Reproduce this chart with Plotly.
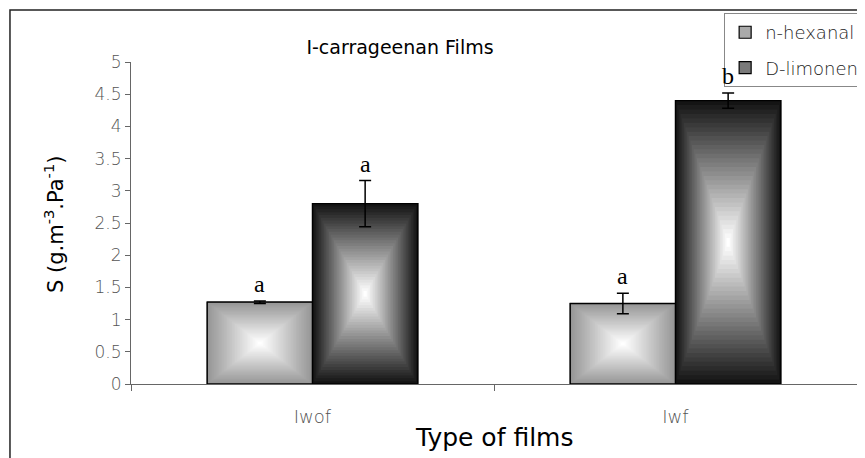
import plotly.graph_objects as go

# ---- data ----
categories = ["Iwof", "Iwf"]
series_names = ["n-hexanal", "D-limonene"]
hexanal_vals = [1.27, 1.25]
hexanal_err = [0.02, 0.16]
limonene_vals = [2.80, 4.40]
limonene_err = [0.36, 0.12]
hexanal_letters = ["a", "a"]
limonene_letters = ["a", "b"]
y_ticks = [0, 0.5, 1, 1.5, 2, 2.5, 3, 3.5, 4, 4.5, 5]
y_ticklabels = ["0", "0.5", "1", "1.5", "2", "2.5", "3", "3.5", "4", "4.5", "5"]

# ---- style ----
W = 0.29
N_STEPS = 32
PAGE_OFFSET = 8  # default page margin of the html body


def mix(c_edge, c_center, t):
    # t=0 -> edge colour, t=1 -> centre colour
    v = round(c_edge + (c_center - c_edge) * t)
    return f"rgb({v},{v},{v})"


series = [
    dict(name=series_names[0], vals=hexanal_vals, err=hexanal_err, letters=hexanal_letters,
         offset=-W, legend_color="#aaaaaa", edge=150, center=255),
    dict(name=series_names[1], vals=limonene_vals, err=limonene_err, letters=limonene_letters,
         offset=0.0, legend_color="#7a7a7a", edge=20, center=255),
]
xpos = list(range(len(categories)))

fig = go.Figure()

# bars (legend + base)
for s in series:
    fig.add_trace(go.Bar(
        x=xpos, y=s["vals"], name=s["name"], offset=s["offset"], width=W,
        marker=dict(color=s["legend_color"], line=dict(color="black", width=1.2)),
        legendgroup=s["name"], hoverinfo="skip",
    ))

# rectangular "from centre" gradient shading: nested rectangles scaled from each bar
for s in series:
    for i, v in zip(xpos, s["vals"]):
        cx = i + s["offset"] + W / 2
        cy = v / 2
        for k in range(N_STEPS):
            f = 1 - k / N_STEPS
            hw = W / 2 * f
            hh = v / 2 * f
            fig.add_trace(go.Scatter(
                x=[cx - hw, cx + hw, cx + hw, cx - hw, cx - hw],
                y=[cy - hh, cy - hh, cy + hh, cy + hh, cy - hh],
                mode="lines", fill="toself",
                fillcolor=mix(s["edge"], s["center"], k / (N_STEPS - 1)),
                line=dict(width=0), showlegend=False, hoverinfo="skip",
            ))
        fig.add_trace(go.Scatter(
            x=[cx - W / 2, cx + W / 2, cx + W / 2, cx - W / 2, cx - W / 2],
            y=[0, 0, v, v, 0], mode="lines",
            line=dict(color="black", width=1.3), showlegend=False, hoverinfo="skip",
        ))

# error bars
for s in series:
    fig.add_trace(go.Scatter(
        x=[i + s["offset"] + W / 2 for i in xpos], y=s["vals"], mode="markers",
        marker=dict(size=1, opacity=0),
        error_y=dict(type="data", array=s["err"], color="black", thickness=1.5, width=6),
        showlegend=False, hoverinfo="skip",
    ))

# significance letters
for s in series:
    for i, v, e, t in zip(xpos, s["vals"], s["err"], s["letters"]):
        fig.add_annotation(
            x=i + s["offset"] + W / 2, y=v + e, text=t, showarrow=False,
            yanchor="bottom", yshift=2,
            font=dict(family="Liberation Serif, Times New Roman, serif", size=24, color="black"),
        )

main_font = "DejaVu Sans, Open Sans, sans-serif"

fig.add_annotation(x=-0.128, y=0.494, xref="paper", yref="paper", textangle=-90,
                   text="S (g.m<sup>-3</sup>.Pa<sup>-1</sup>)", showarrow=False,
                   font=dict(family=main_font, size=21, color="black"))
fig.add_annotation(x=0.5, y=-0.165, xref="paper", yref="paper", yanchor="middle",
                   text="Type of films", showarrow=False,
                   font=dict(family=main_font, size=25, color="black"))

# outer border
fig.add_shape(type="rect", xref="paper", yref="paper", x0=-0.1667, x1=1.3, y0=-0.4, y1=1.1615,
              line=dict(color="#222222", width=1.5))

fig.update_layout(
    width=865, height=458,
    margin=dict(l=131 - PAGE_OFFSET, r=16, t=62 - PAGE_OFFSET, b=82, autoexpand=False),
    paper_bgcolor="white", plot_bgcolor="white",
    barmode="overlay",
    title=dict(text="I-carrageenan Films", x=(400 - PAGE_OFFSET) / 865, xanchor="center",
               xref="container", y=1 - (47 - PAGE_OFFSET) / 458, yanchor="middle",
               font=dict(family=main_font, size=19, color="black")),
    showlegend=True,
    legend=dict(x=0.817, y=1.152, xanchor="left", yanchor="top", bgcolor="white",
                bordercolor="#888888", borderwidth=1, tracegroupgap=9,
                font=dict(family=main_font, size=18, color="#222222", weight=200)),
    xaxis=dict(range=[-0.5, 1.5], tickvals=xpos, ticktext=categories, ticks="",
               showgrid=False, zeroline=False, showline=True, linecolor="#666666", linewidth=1,
               ticklabelstandoff=16,
               tickfont=dict(family=main_font, size=18, color="#555555", weight=200),
               minor=dict(tick0=-0.5, dtick=1, ticks="outside", ticklen=6, tickcolor="#666666",
                          showgrid=False)),
    yaxis=dict(range=[0, 5], tickvals=y_ticks, ticktext=y_ticklabels, ticks="outside",
               ticklen=5, tickcolor="#666666", showgrid=False, zeroline=False, showline=True,
               linecolor="#666666", linewidth=1,
               tickfont=dict(family=main_font, size=17, color="#555555", weight=200)),
)

fig.write_html("out.html")
